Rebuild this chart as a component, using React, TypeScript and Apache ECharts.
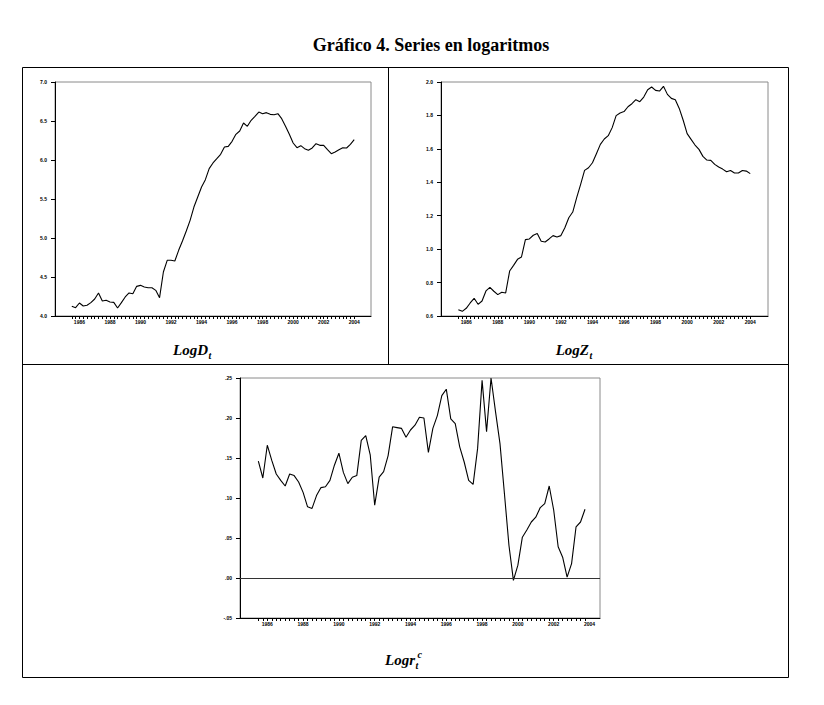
import React, { useEffect, useRef } from "react";
import * as echarts from "echarts";

// x tick labels (every 8 quarters); data starts 1985Q3 (index 0), 1986Q1 is index 2
const yearLabels = ["1986", "1988", "1990", "1992", "1994", "1996", "1998", "2000", "2002", "2004"];
const labelIndex = yearLabels.map((_, k) => 2 + 8 * k);

const logD = [
  4.124, 4.107, 4.167, 4.128, 4.137, 4.171, 4.218, 4.295, 4.192, 4.201,
  4.179, 4.175, 4.103, 4.171, 4.244, 4.295, 4.286, 4.38, 4.393, 4.372,
  4.363, 4.363, 4.329, 4.235, 4.564, 4.714, 4.714, 4.705, 4.842, 4.962,
  5.09, 5.226, 5.397, 5.526, 5.654, 5.748, 5.889, 5.962, 6.017, 6.073,
  6.167, 6.175, 6.239, 6.329, 6.372, 6.474, 6.432, 6.509, 6.56, 6.615,
  6.594, 6.607, 6.585, 6.581, 6.594, 6.53, 6.432, 6.329, 6.218, 6.158,
  6.184, 6.145, 6.124, 6.154, 6.209, 6.188, 6.188, 6.132, 6.081, 6.103,
  6.132, 6.158, 6.154, 6.201, 6.261,
];

const logZ = [
  0.638, 0.628, 0.646, 0.678, 0.706, 0.67, 0.69, 0.75, 0.771, 0.748,
  0.728, 0.742, 0.738, 0.869, 0.903, 0.939, 0.953, 1.057, 1.061, 1.083,
  1.093, 1.047, 1.043, 1.061, 1.081, 1.073, 1.081, 1.128, 1.188, 1.222,
  1.308, 1.388, 1.471, 1.487, 1.517, 1.571, 1.627, 1.659, 1.679, 1.727,
  1.799, 1.815, 1.823, 1.852, 1.87, 1.894, 1.882, 1.91, 1.954, 1.97,
  1.95, 1.946, 1.974, 1.926, 1.902, 1.894, 1.842, 1.771, 1.691, 1.657,
  1.623, 1.597, 1.555, 1.533, 1.531, 1.507, 1.491, 1.479, 1.463, 1.471,
  1.456, 1.456, 1.471, 1.467, 1.452,
];

const logRc = [
  0.146, 0.125, 0.166, 0.147, 0.13, 0.122, 0.115, 0.13, 0.128, 0.12,
  0.107, 0.089, 0.087, 0.103, 0.113, 0.114, 0.122, 0.141, 0.156, 0.132,
  0.118, 0.126, 0.128, 0.172, 0.178, 0.154, 0.091, 0.126, 0.133, 0.153,
  0.189, 0.188, 0.187, 0.176, 0.185, 0.191, 0.201, 0.2, 0.157, 0.187,
  0.203, 0.228, 0.236, 0.199, 0.193, 0.164, 0.145, 0.122, 0.117, 0.162,
  0.247, 0.183, 0.25, 0.208, 0.168, 0.105, 0.041, -0.003, 0.016, 0.051,
  0.06, 0.07, 0.076, 0.088, 0.093, 0.115, 0.085, 0.039, 0.026, 0.001,
  0.018, 0.064, 0.07, 0.086,
];

const serif = '"Liberation Serif", "Times New Roman", serif';
const sans = '"Liberation Sans", Arial, sans-serif';

function xAxisFor(gridIndex: number, n: number, min: number, max: number) {
  const ticks = Array.from({ length: n }, (_, i) => i);
  return {
    type: "value",
    gridIndex,
    min,
    max,
    splitLine: { show: false },
    axisLine: { show: true, onZero: false, lineStyle: { color: "#000", width: 1 } },
    axisTick: {
      show: true,
      inside: false,
      length: 3,
      customValues: ticks,
      lineStyle: { color: "#000", width: 1 },
    },
    axisLabel: {
      show: true,
      customValues: labelIndex,
      margin: 3,
      fontSize: 5,
      fontFamily: sans,
      fontWeight: "bold",
      color: "#000",
      formatter: (v: number) => {
        const k = labelIndex.indexOf(Math.round(v));
        return k >= 0 ? yearLabels[k] : "";
      },
    },
  };
}

function yAxisFor(gridIndex: number, min: number, max: number, interval: number, fmt: (v: number) => string) {
  return {
    type: "value",
    gridIndex,
    min,
    max,
    interval,
    splitLine: { show: false },
    axisLine: { show: true, onZero: false, lineStyle: { color: "#000", width: 1 } },
    axisTick: { show: true, inside: false, length: 4, lineStyle: { color: "#000", width: 1 } },
    axisLabel: {
      margin: 8,
      fontSize: 5,
      fontFamily: sans,
      fontWeight: "bold",
      color: "#000",
      formatter: fmt,
    },
  };
}

const fmt1 = (v: number) => v.toFixed(1);
const fmtR = (v: number) => {
  const s = (Math.abs(v) < 1e-9 ? 0 : v).toFixed(2);
  return s.replace(/^(-?)0\./, "$1.");
};

export default function App() {
  const ref = useRef<HTMLDivElement>(null);

  useEffect(() => {
    if (!ref.current) return;
    const chart = echarts.init(ref.current, undefined, { renderer: "svg" });

    const lineStyle = { color: "#000", width: 1.1 };
    const gridBase = { show: true, borderColor: "#8a8a8a", borderWidth: 1, backgroundColor: "#fff" };

    const option: any = {
      animation: false,
      backgroundColor: "#fff",
      grid: [
        { ...gridBase, left: 55, top: 82, width: 316, height: 234 },
        { ...gridBase, left: 441, top: 82, width: 327, height: 234 },
        { ...gridBase, left: 240, top: 378, width: 360, height: 240 },
      ],
      xAxis: [
        xAxisFor(0, logD.length, -4.4, 78.4),
        xAxisFor(1, logZ.length, -4.4, 78.5),
        xAxisFor(2, logRc.length, -4.1, 76.35),
      ],
      yAxis: [
        yAxisFor(0, 4.0, 7.0, 0.5, fmt1),
        yAxisFor(1, 0.6, 2.0, 0.2, fmt1),
        yAxisFor(2, -0.05, 0.25, 0.05, fmtR),
      ],
      series: [
        {
          type: "line",
          xAxisIndex: 0,
          yAxisIndex: 0,
          showSymbol: false,
          lineStyle,
          data: logD.map((v, i) => [i, v]),
        },
        {
          type: "line",
          xAxisIndex: 1,
          yAxisIndex: 1,
          showSymbol: false,
          lineStyle,
          data: logZ.map((v, i) => [i, v]),
        },
        {
          type: "line",
          xAxisIndex: 2,
          yAxisIndex: 2,
          showSymbol: false,
          lineStyle,
          data: logRc.map((v, i) => [i, v]),
          markLine: {
            silent: true,
            symbol: "none",
            label: { show: false },
            lineStyle: { color: "#333", width: 1, type: "solid" },
            data: [{ yAxis: 0 }],
          },
        },
      ],
      graphic: [
        {
          type: "rect",
          shape: { x: 22.5, y: 67.5, width: 766, height: 610 },
          style: { fill: "none", stroke: "#000", lineWidth: 1 },
          silent: true,
        },
        {
          type: "line",
          shape: { x1: 388.5, y1: 67.5, x2: 388.5, y2: 364.5 },
          style: { stroke: "#000", lineWidth: 1 },
          silent: true,
        },
        {
          type: "line",
          shape: { x1: 22.5, y1: 364.5, x2: 788.5, y2: 364.5 },
          style: { stroke: "#000", lineWidth: 1 },
          silent: true,
        },
        {
          type: "text",
          x: 431,
          y: 45,
          style: {
            text: "Gráfico 4. Series en logaritmos",
            font: `bold 18px ${serif}`,
            fill: "#000",
            textAlign: "center",
            align: "center",
            textVerticalAlign: "middle",
            verticalAlign: "middle",
          },
        },
        // LogD_t
        {
          type: "text",
          x: 208,
          y: 350,
          style: { text: "LogD", font: `italic bold 15px ${serif}`, fill: "#000", textAlign: "right", align: "right", textVerticalAlign: "middle", verticalAlign: "middle" },
        },
        {
          type: "text",
          x: 208.5,
          y: 355,
          style: { text: "t", font: `italic bold 10px ${serif}`, fill: "#000", textAlign: "left", align: "left", textVerticalAlign: "middle", verticalAlign: "middle" },
        },
        // LogZ_t
        {
          type: "text",
          x: 589,
          y: 350,
          style: { text: "LogZ", font: `italic bold 15px ${serif}`, fill: "#000", textAlign: "right", align: "right", textVerticalAlign: "middle", verticalAlign: "middle" },
        },
        {
          type: "text",
          x: 589.5,
          y: 355,
          style: { text: "t", font: `italic bold 10px ${serif}`, fill: "#000", textAlign: "left", align: "left", textVerticalAlign: "middle", verticalAlign: "middle" },
        },
        // Logr_t^c
        {
          type: "text",
          x: 415,
          y: 660,
          style: { text: "Logr", font: `italic bold 15px ${serif}`, fill: "#000", textAlign: "right", align: "right", textVerticalAlign: "middle", verticalAlign: "middle" },
        },
        {
          type: "text",
          x: 415.5,
          y: 665,
          style: { text: "t", font: `italic bold 10px ${serif}`, fill: "#000", textAlign: "left", align: "left", textVerticalAlign: "middle", verticalAlign: "middle" },
        },
        {
          type: "text",
          x: 417.5,
          y: 654.5,
          style: { text: "c", font: `italic bold 10px ${serif}`, fill: "#000", textAlign: "left", align: "left", textVerticalAlign: "middle", verticalAlign: "middle" },
        },
      ],
    };

    chart.setOption(option);
    return () => chart.dispose();
  }, []);

  return (
    <div
      ref={ref}
      style={{ position: "absolute", left: 0, top: 0, width: 824, height: 705, background: "#fff" }}
    />
  );
}
